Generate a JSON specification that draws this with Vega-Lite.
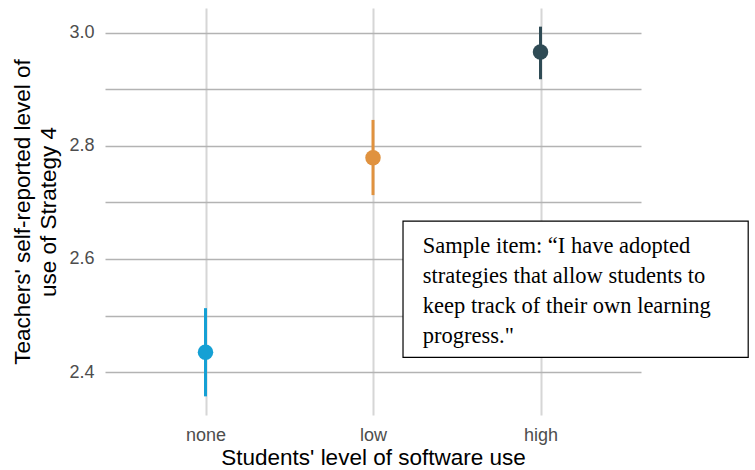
{
  "$schema": "https://vega.github.io/schema/vega-lite/v6.json",
  "autosize": "none",
  "width": 536,
  "height": 407,
  "padding": {"left": 105, "top": 8, "right": 114, "bottom": 55},
  "background": "white",
  "config": {
    "view": {"stroke": null},
    "font": "Liberation Sans"
  },
  "datasets": {
    "means": [
      {"use": "none", "mean": 2.435, "lo": 2.357, "hi": 2.513},
      {"use": "low", "mean": 2.779, "lo": 2.713, "hi": 2.846},
      {"use": "high", "mean": 2.966, "lo": 2.918, "hi": 3.011}
    ],
    "box": [
      {"x1": 0.556, "x2": 1.2, "y1": 2.667, "y2": 2.426}
    ],
    "note": [
      {"tx": 0.593, "ty": 2.6105, "line": "Sample item: “I have adopted"},
      {"tx": 0.593, "ty": 2.5573, "line": "strategies that allow students to"},
      {"tx": 0.593, "ty": 2.5041, "line": "keep track of their own learning"},
      {"tx": 0.593, "ty": 2.4509, "line": "progress.\""}
    ]
  },
  "layer": [
    {
      "data": {"name": "means"},
      "layer": [
        {
          "mark": {"type": "rule", "strokeWidth": 3},
          "encoding": {
            "x": {"field": "use", "type": "nominal"},
            "y": {"field": "lo", "type": "quantitative"},
            "y2": {"field": "hi"},
            "color": {"field": "use", "type": "nominal"}
          }
        },
        {
          "mark": {"type": "point", "filled": true, "opacity": 1, "size": 240, "shape": "circle"},
          "encoding": {
            "x": {"field": "use", "type": "nominal"},
            "y": {"field": "mean", "type": "quantitative"},
            "color": {"field": "use", "type": "nominal"}
          }
        }
      ],
      "encoding": {
        "x": {
          "field": "use",
          "type": "nominal",
          "sort": ["none", "low", "high"],
          "scale": {"type": "point", "padding": 0.6},
          "axis": {
            "title": "Students' level of software use",
            "titleFontSize": 22.5,
            "titleFontWeight": "normal",
            "titleColor": "black",
            "titlePadding": 2,
            "labelAngle": 0,
            "labelFontSize": 18,
            "labelColor": "#4d4d4d",
            "labelPadding": 11,
            "ticks": false,
            "domain": false,
            "grid": true,
            "gridColor": "#d6d6d6",
            "gridWidth": 2
          }
        },
        "y": {
          "type": "quantitative",
          "scale": {"domain": [2.324, 3.044], "nice": false, "zero": false},
          "axis": {
            "title": ["Teachers' self-reported level of", "use of Strategy 4"],
            "titleFontSize": 22.5,
            "titleFontWeight": "normal",
            "titleColor": "black",
            "titlePadding": 8,
            "titleLineHeight": 26,
            "values": [2.4, 2.5, 2.6, 2.7, 2.8, 2.9, 3.0],
            "format": ".1f",
            "labelExpr": "indexof(['2.4','2.6','2.8','3.0'], datum.label) >= 0 ? datum.label : ''",
            "labelFontSize": 18,
            "labelColor": "#4d4d4d",
            "labelPadding": 11,
            "ticks": false,
            "domain": false,
            "grid": true,
            "gridColor": "#b3b3b3",
            "gridWidth": 1.6
          }
        },
        "color": {
          "field": "use",
          "type": "nominal",
          "scale": {"domain": ["none", "low", "high"], "range": ["#15a0d4", "#e0923f", "#2f4b55"]},
          "legend": null
        }
      }
    },
    {
      "data": {"name": "box"},
      "mark": {"type": "rect", "fill": "white", "stroke": "black", "strokeWidth": 1.2},
      "encoding": {
        "x": {"field": "x1", "type": "quantitative", "scale": {"domain": [0, 1], "nice": false, "zero": false}, "axis": null},
        "x2": {"field": "x2"},
        "y": {"field": "y1", "type": "quantitative"},
        "y2": {"field": "y2"}
      }
    },
    {
      "data": {"name": "note"},
      "mark": {"type": "text", "align": "left", "baseline": "alphabetic", "font": "Liberation Serif", "fontSize": 22.5, "color": "black"},
      "encoding": {
        "x": {"field": "tx", "type": "quantitative", "scale": {"domain": [0, 1], "nice": false, "zero": false}, "axis": null},
        "y": {"field": "ty", "type": "quantitative"},
        "text": {"field": "line"}
      }
    }
  ],
  "resolve": {"scale": {"x": "independent"}}
}
